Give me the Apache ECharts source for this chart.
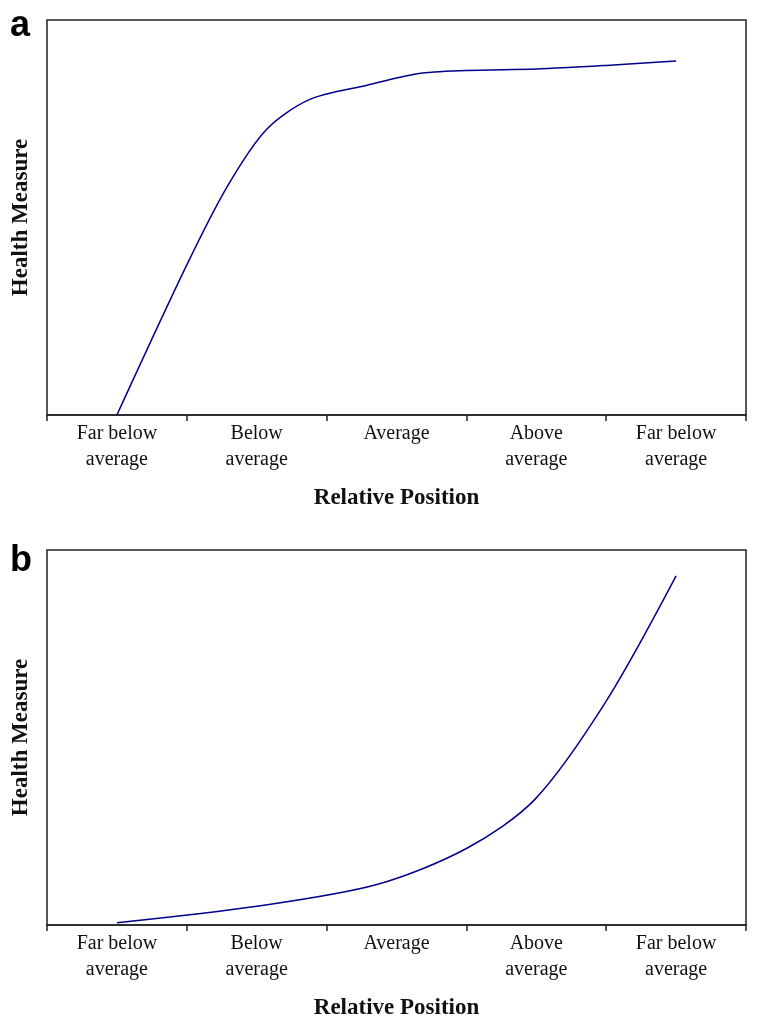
<!DOCTYPE html>
<html>
<head>
<meta charset="utf-8">
<script src="https://cdn.jsdelivr.net/npm/echarts@6/dist/echarts.min.js"></script>
<style>
html,body{margin:0;padding:0;background:#fff;}
#c{width:760px;height:1027px;}
</style>
</head>
<body>
<div id="c"></div>
<script>
// Category labels on the x axis
var categories = ['Far below\naverage', 'Below\naverage', 'Average', 'Above\naverage', 'Far below\naverage'];
var panelLabels = ['a', 'b'];
var xTitle = 'Relative Position';
var yTitle = 'Health Measure';

// Curve readings: [position in category units (category i centre = i + 0.5), health measure 0-100]
var curveA = [
  [0.50, 0.0], [1.00, 38.0], [1.29, 57.9], [1.57, 72.3], [1.88, 79.9],
  [2.29, 83.5], [2.65, 86.4], [3.00, 87.2], [3.50, 87.6], [4.00, 88.5], [4.50, 89.6]
];
var curveB = [
  [0.50, 0.6], [1.50, 5.0], [2.36, 10.8], [3.00, 20.4], [3.49, 33.5],
  [4.00, 59.7], [4.50, 93.1]
];

var serif = "'Liberation Serif','Times New Roman',serif";
var chart = echarts.init(document.getElementById('c'), null, {renderer: 'canvas'});

function catAxis(gi) {
  return {
    type: 'category', gridIndex: gi, data: categories, boundaryGap: true,
    axisLine: {show: true, lineStyle: {color: '#222', width: 1.5}},
    axisTick: {show: true, length: 6, lineStyle: {color: '#222', width: 1.5}},
    axisLabel: {color: '#111', fontFamily: serif, fontSize: 20, lineHeight: 26, margin: 6},
    name: xTitle, nameLocation: 'middle', nameGap: 72,
    nameTextStyle: {color: '#111', fontFamily: serif, fontSize: 23, fontWeight: 'bold'},
    splitLine: {show: false}
  };
}
function valXAxis(gi) {
  return {type: 'value', gridIndex: gi, min: 0, max: 5, show: false};
}
function yAxis(gi) {
  return {
    type: 'value', gridIndex: gi, min: 0, max: 100,
    axisLine: {show: false}, axisTick: {show: false}, axisLabel: {show: false},
    splitLine: {show: false},
    name: yTitle, nameLocation: 'middle', nameGap: 14, nameRotate: 90,
    nameTextStyle: {color: '#111', fontFamily: serif, fontSize: 23, fontWeight: 'bold'}
  };
}

chart.setOption({
  backgroundColor: '#fff',
  animation: false,
  grid: [
    {left: 47, top: 20, width: 699, height: 395, show: true, borderColor: '#222', borderWidth: 1.5, backgroundColor: 'transparent'},
    {left: 47, top: 550, width: 699, height: 375, show: true, borderColor: '#222', borderWidth: 1.5, backgroundColor: 'transparent'}
  ],
  xAxis: [catAxis(0), valXAxis(0), catAxis(1), valXAxis(1)],
  yAxis: [yAxis(0), yAxis(1)],
  series: [
    {type: 'line', xAxisIndex: 1, yAxisIndex: 0, data: curveA, smooth: 0.3, showSymbol: false,
     lineStyle: {color: '#00008b', width: 1.5}},
    {type: 'line', xAxisIndex: 3, yAxisIndex: 1, data: curveB, smooth: 0.3, showSymbol: false,
     lineStyle: {color: '#00008b', width: 1.5}}
  ],
  graphic: [
    {type: 'text', left: 10, top: 8, style: {text: panelLabels[0], font: "bold 36px 'Liberation Sans', Arial, sans-serif", fill: '#000'}},
    {type: 'text', left: 10, top: 543, style: {text: panelLabels[1], font: "bold 36px 'Liberation Sans', Arial, sans-serif", fill: '#000'}}
  ]
});
</script>
</body>
</html>
